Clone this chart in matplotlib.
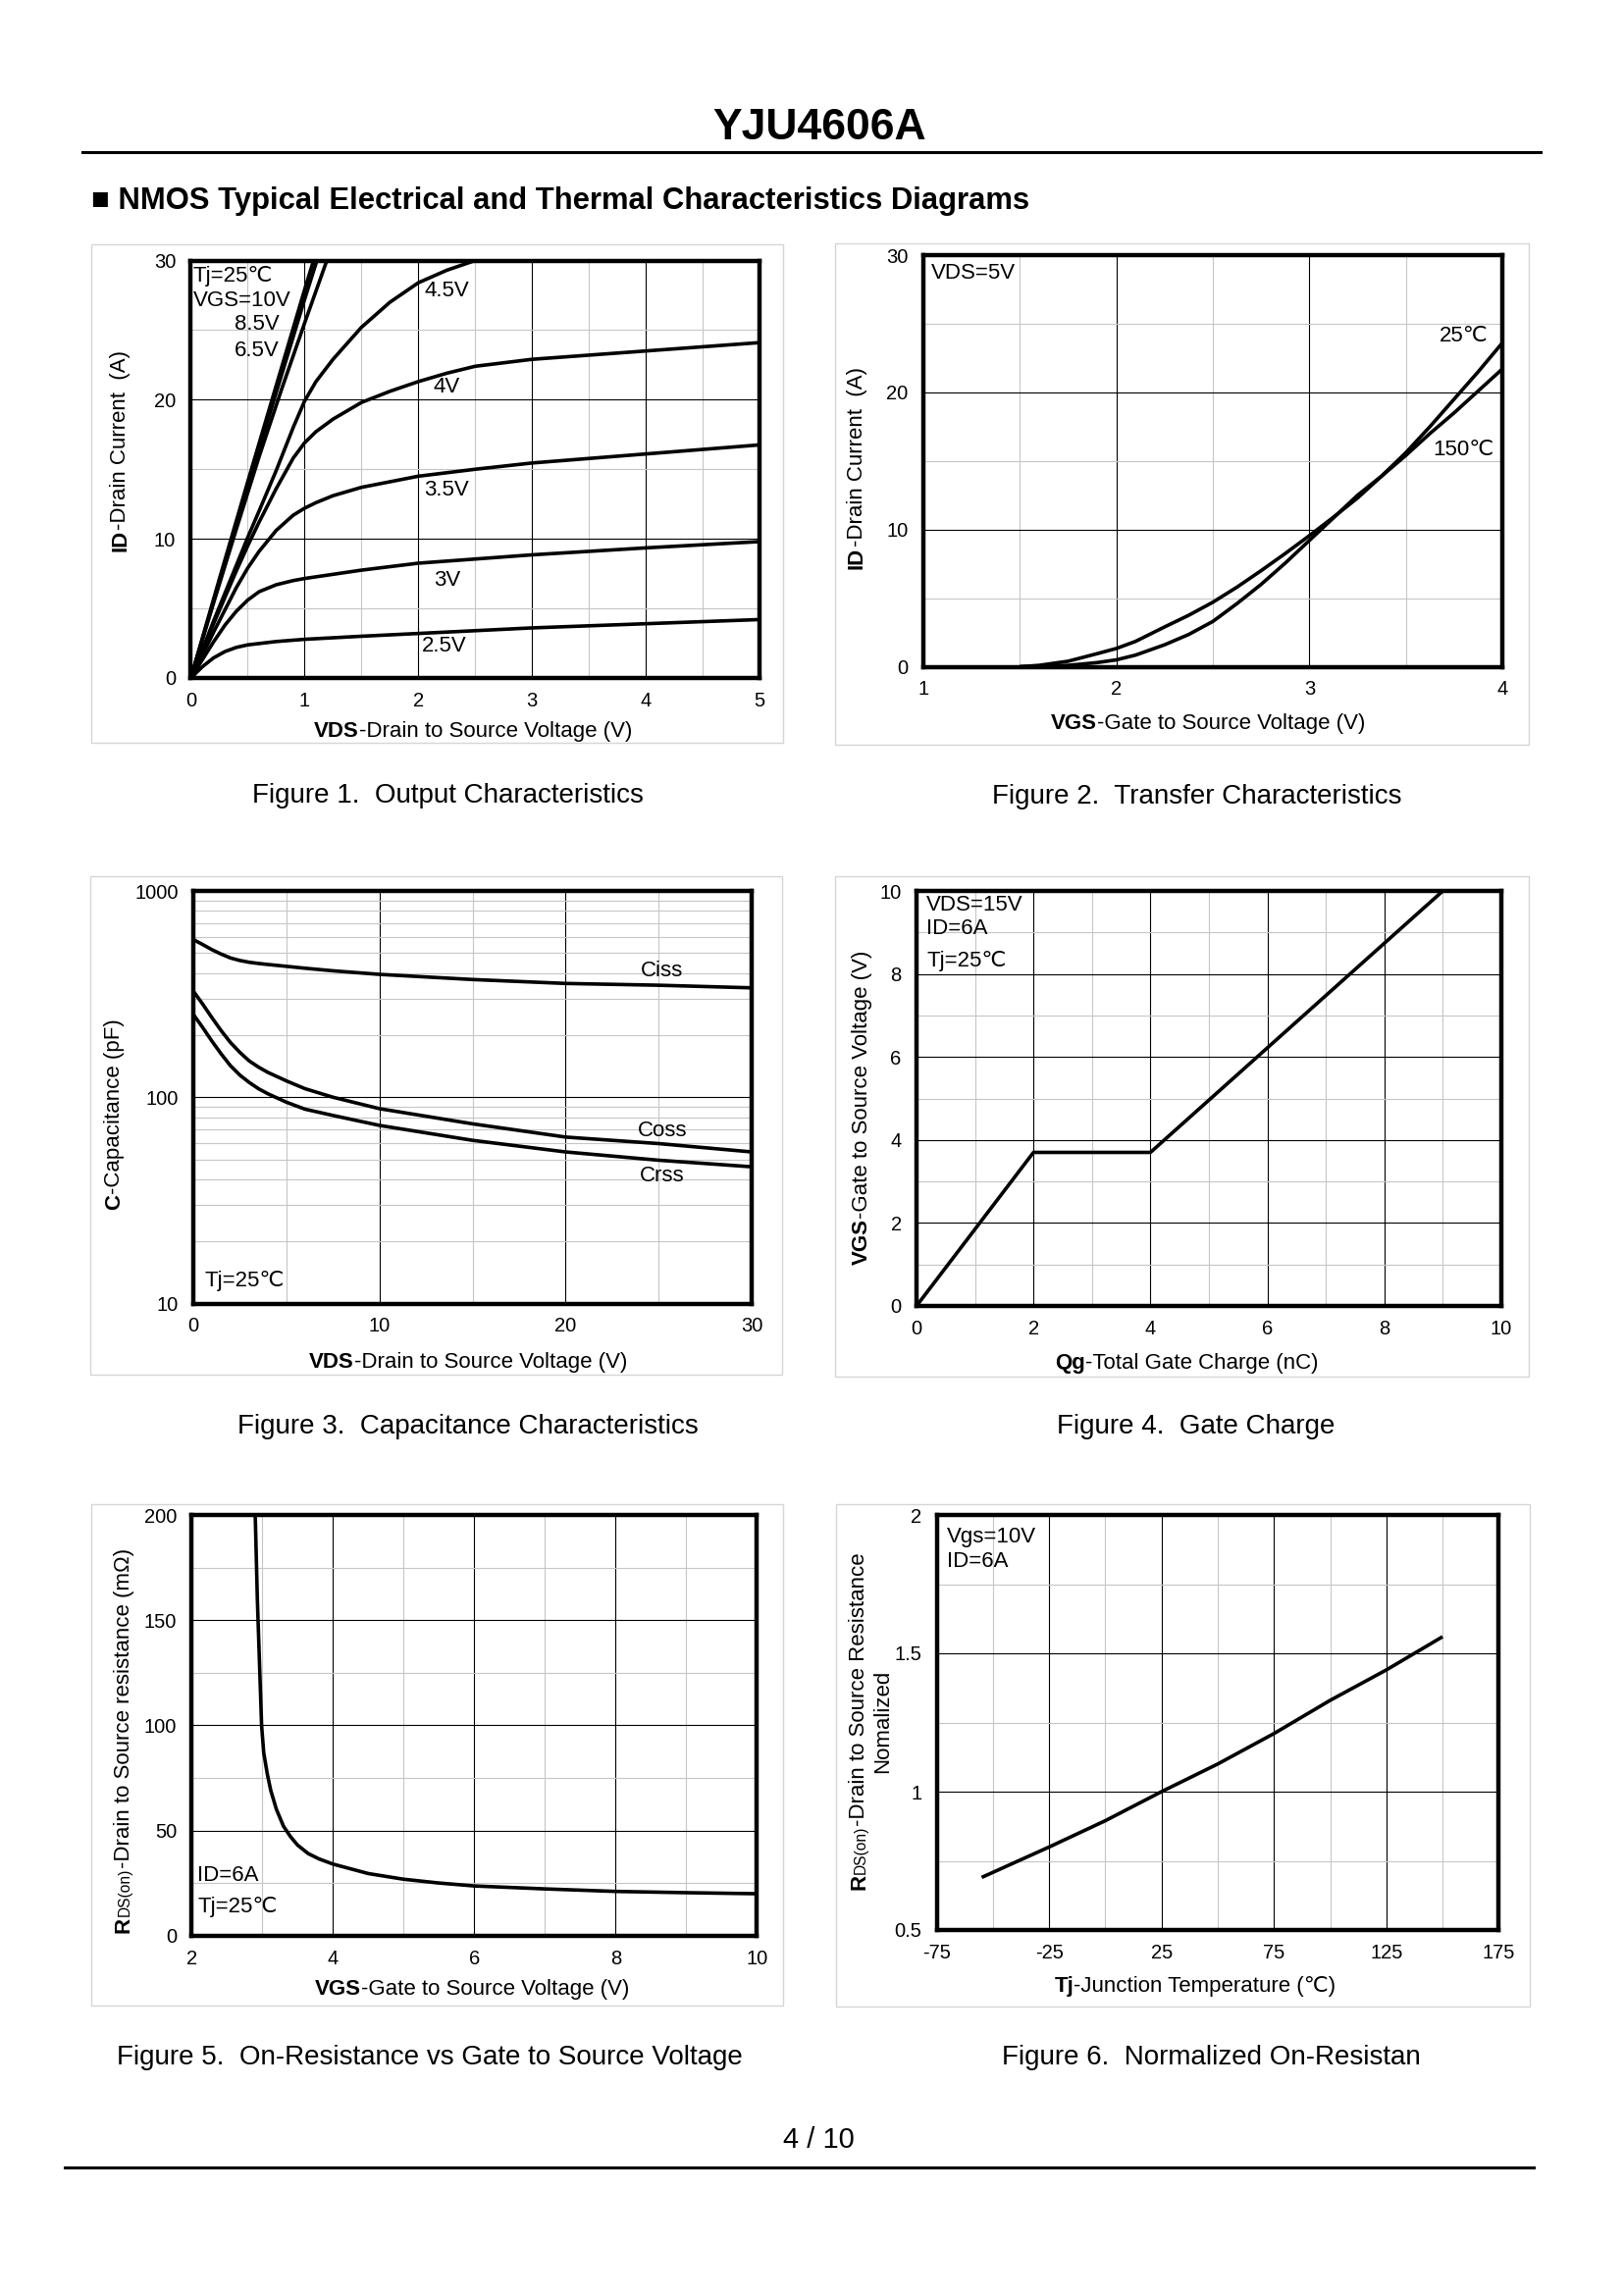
import matplotlib
matplotlib.use('Agg')
import matplotlib.pyplot as plt
from matplotlib.patches import Rectangle
from matplotlib.lines import Line2D
from matplotlib.ticker import NullFormatter, FixedLocator, FixedFormatter

plt.rcParams['font.family'] = ['Liberation Sans', 'DejaVu Sans']

W, H, DPI = 1656, 2339, 100

# ---------------- data ----------------
# Figure 1: output characteristics (VDS in V, ID in A)
f1_vds_25 = [0, 0.1, 0.2, 0.3, 0.4, 0.5, 0.75, 1, 1.5, 2, 3, 4, 5]
f1_id_25 = [0, 0.8, 1.45, 1.9, 2.2, 2.38, 2.62, 2.78, 3.0, 3.2, 3.6, 3.9, 4.2]
f1_vds_30 = [0, 0.1, 0.2, 0.3, 0.4, 0.5, 0.6, 0.75, 0.9, 1, 1.25, 1.5, 2, 2.5, 3, 4, 5]
f1_id_30 = [0, 1.3, 2.6, 3.8, 4.8, 5.6, 6.2, 6.7, 7.0, 7.15, 7.45, 7.75, 8.25, 8.55, 8.85, 9.35, 9.8]
f1_vds_35 = [0, 0.1, 0.2, 0.3, 0.4, 0.5, 0.6, 0.75, 0.9, 1, 1.1, 1.25, 1.5, 1.75, 2, 2.5, 3, 4, 5]
f1_id_35 = [0, 1.6, 3.3, 4.9, 6.5, 7.9, 9.1, 10.6, 11.7, 12.2, 12.6, 13.1, 13.7, 14.1, 14.5, 15.0, 15.45, 16.1, 16.75]
f1_vds_40 = [0, 0.1, 0.2, 0.3, 0.4, 0.5, 0.6, 0.75, 0.9, 1, 1.1, 1.25, 1.5, 1.75, 2, 2.25, 2.5, 3, 4, 5]
f1_id_40 = [0, 1.9, 3.9, 5.8, 7.7, 9.5, 11.2, 13.6, 15.8, 16.9, 17.7, 18.6, 19.8, 20.6, 21.3, 21.9, 22.4, 22.9, 23.5, 24.1]
f1_vds_45 = [0, 0.1, 0.2, 0.3, 0.4, 0.5, 0.6, 0.75, 0.9, 1, 1.1, 1.25, 1.5, 1.75, 2, 2.25, 2.5]
f1_id_45 = [0, 2.0, 4.1, 6.1, 8.1, 10.1, 12.0, 14.9, 18.0, 19.9, 21.3, 22.9, 25.2, 27.0, 28.4, 29.3, 30.0]
f1_vds_65 = [0, 0.2, 0.4, 0.6, 0.8, 1.0, 1.2]
f1_id_65 = [0, 5.4, 10.7, 15.9, 20.8, 25.5, 30.1]
f1_vds_85 = [0, 0.25, 0.5, 0.75, 1.0, 1.12]
f1_id_85 = [0, 6.9, 13.7, 20.5, 27.2, 30.3]
f1_vds_10 = [0, 0.25, 0.5, 0.75, 1.0, 1.09]
f1_id_10 = [0, 7.1, 14.1, 21.0, 27.9, 30.3]

# Figure 2: transfer characteristics (VGS in V, ID in A)
f2_vgs = [1.5, 1.6, 1.75, 1.9, 2.0, 2.1, 2.25, 2.375, 2.5, 2.625, 2.75, 2.875,
          3.0, 3.125, 3.25, 3.375, 3.5, 3.625, 3.75, 3.875, 4.0]
f2_id_25c = [0, 0.1, 0.4, 0.95, 1.33, 1.85, 2.9, 3.75, 4.7, 5.8, 7.0, 8.25,
             9.55, 10.9, 12.3, 13.9, 15.6, 17.5, 19.5, 21.5, 23.6]
f2_id_150c = [0, 0.02, 0.1, 0.3, 0.5, 0.85, 1.6, 2.35, 3.3, 4.6, 6.0, 7.55,
              9.2, 10.85, 12.5, 13.9, 15.4, 17.0, 18.5, 20.1, 21.7]

# Figure 3: capacitance (VDS in V, C in pF)
f3_vds = [0, 0.5, 1, 1.5, 2, 2.5, 3, 3.5, 4, 5, 6, 7.5, 10, 15, 20, 25, 30]
f3_ciss = [581, 550, 519, 494, 473, 460, 451, 445, 440, 431, 422, 410, 394, 372, 356, 349, 339]
f3_coss = [327, 283, 243, 210, 184, 165, 150, 140, 132, 120, 110, 100, 88, 74.3, 64.1, 59.6, 54.3]
f3_crss = [252, 218, 187, 162, 142, 128, 118, 110, 104, 94.6, 87.5, 81.6, 73, 61.8, 54.3, 49.5, 46]

# Figure 4: gate charge (Qg in nC, VGS in V)
f4_qg = [0, 2, 4, 9]
f4_vgs = [0, 3.7, 3.7, 10]

# Figure 5: RDS(on) vs VGS (V, mOhm)
f5_vgs = [2.9, 2.93, 2.96, 2.99, 3.02, 3.07, 3.12, 3.2, 3.3, 3.4, 3.5, 3.65, 3.8,
          4.0, 4.5, 5.0, 5.5, 6, 7, 8, 9, 10]
f5_rds = [200, 160, 130, 100, 87, 77, 69, 60, 52, 47, 43, 39, 36.5,
          34, 29.5, 26.8, 25, 23.6, 22.2, 21, 20.4, 19.9]

# Figure 6: normalized RDS(on) vs Tj
f6_tj = [-55, -25, 0, 25, 50, 75, 100, 125, 150]
f6_rn = [0.69, 0.80, 0.895, 1.0, 1.10, 1.21, 1.33, 1.44, 1.56]

# ---------------- helpers ----------------
fig = plt.figure(figsize=(W / DPI, H / DPI), dpi=DPI)
fig.patch.set_facecolor('white')
renderer = fig.canvas.get_renderer()

TICK = 14.5
ANN = 16
LAB = 16
CAP = 20
LW = 2.6


def add_axes_px(l, t, r, b):
    return fig.add_axes([l / W, 1 - b / H, (r - l) / W, (b - t) / H])


def box_px(l, t, r, b):
    fig.add_artist(Rectangle((l / W, 1 - b / H), (r - l) / W, (b - t) / H,
                             transform=fig.transFigure, fill=False,
                             ec='#d6d6d6', lw=1.0))


def hline_px(y, x0, x1, lw):
    fig.add_artist(Line2D([x0 / W, x1 / W], [1 - y / H, 1 - y / H],
                          transform=fig.transFigure, color='black', lw=lw))


def rich(pieces, x, y, size, rotation=0):
    """pieces: (text, weight, scale). Horizontal: x = centre, y = baseline.
    Rotated 90: x = baseline, y = centre (pixel coords from top-left)."""
    ts, lens = [], []
    for s, wt, sc in pieces:
        t = fig.text(0, 0, s, fontsize=size * sc, fontweight=wt,
                     rotation=rotation, rotation_mode='anchor',
                     ha='left', va='baseline', color='black')
        bb = t.get_window_extent(renderer=renderer)
        lens.append(bb.width if rotation == 0 else bb.height)
        ts.append(t)
    total = sum(lens)
    pos = -total / 2
    for t, L in zip(ts, lens):
        if rotation == 0:
            t.set_position(((x + pos) / W, 1 - y / H))
        else:
            t.set_position((x / W, 1 - (y - pos) / H))
        pos += L


def style_axes(ax, xlim, ylim, xmaj, xmin, ymaj, ymin, xlab, ylab, log=False):
    if log:
        ax.set_yscale('log')
    ax.set_xlim(*xlim)
    ax.set_ylim(*ylim)
    ax.xaxis.set_major_locator(FixedLocator(xmaj))
    ax.xaxis.set_major_formatter(FixedFormatter(xlab))
    ax.xaxis.set_minor_locator(FixedLocator(xmin))
    ax.xaxis.set_minor_formatter(NullFormatter())
    ax.yaxis.set_major_locator(FixedLocator(ymaj))
    ax.yaxis.set_major_formatter(FixedFormatter(ylab))
    ax.yaxis.set_minor_locator(FixedLocator(ymin))
    ax.yaxis.set_minor_formatter(NullFormatter())
    ax.grid(which='major', color='black', lw=0.8)
    ax.grid(which='minor', color='#c6c6c6', lw=0.8)
    ax.set_axisbelow(True)
    ax.tick_params(which='both', length=0, labelsize=TICK, colors='black')
    ax.tick_params(axis='x', pad=10)
    ax.tick_params(axis='y', pad=11)
    for s in ax.spines.values():
        s.set_linewidth(3.2)
        s.set_color('black')


def curve(ax, x, y):
    ax.plot(x, y, color='black', lw=LW, solid_joinstyle='round',
            solid_capstyle='butt', zorder=2)


# ---------------- page decorations ----------------
fig.text(835 / W, 1 - 142 / H, 'YJU4606A', fontsize=32, fontweight='bold',
         ha='center', va='baseline')
hline_px(155, 84.5, 1570, 2.2)
fig.text(93 / W, 1 - 213 / H,
         '■ NMOS Typical Electrical and Thermal Characteristics Diagrams',
         fontsize=22.3, fontweight='bold', ha='left', va='baseline')
fig.text(834 / W, 1 - 2189 / H, '4 / 10', fontsize=21, ha='center', va='baseline')
hline_px(2209, 65.5, 1563, 2.2)

# outer frames
box_px(92.6, 249, 798, 757)
box_px(851, 248, 1558, 759)
box_px(92, 893, 797, 1401)
box_px(851, 893, 1558, 1402.5)
box_px(92.6, 1533, 798, 2044)
box_px(852.5, 1533, 1559, 2045)

# ---------------- Figure 1 ----------------
ax1 = add_axes_px(194.5, 265.5, 774, 691)
style_axes(ax1, (0, 5), (0, 30), [0, 1, 2, 3, 4, 5], [0.5, 1.5, 2.5, 3.5, 4.5],
           [0, 10, 20, 30], [5, 15, 25], ['0', '1', '2', '3', '4', '5'],
           ['0', '10', '20', '30'])
for xs, ys in [(f1_vds_25, f1_id_25), (f1_vds_30, f1_id_30), (f1_vds_35, f1_id_35),
               (f1_vds_40, f1_id_40), (f1_vds_45, f1_id_45), (f1_vds_65, f1_id_65),
               (f1_vds_85, f1_id_85), (f1_vds_10, f1_id_10)]:
    curve(ax1, xs, ys)
ax1.text(0.02, 28.9, 'Tj=25℃', fontsize=ANN, ha='left', va='center')
ax1.text(0.02, 27.1, 'VGS=10V', fontsize=ANN, ha='left', va='center')
ax1.text(0.78, 25.4, '8.5V', fontsize=ANN, ha='right', va='center')
ax1.text(0.78, 23.5, '6.5V', fontsize=ANN, ha='right', va='center')
ax1.text(2.25, 27.8, '4.5V', fontsize=ANN, ha='center', va='center')
ax1.text(2.25, 20.9, '4V', fontsize=ANN, ha='center', va='center')
ax1.text(2.25, 13.5, '3.5V', fontsize=ANN, ha='center', va='center')
ax1.text(2.25, 7.0, '3V', fontsize=ANN, ha='center', va='center')
ax1.text(2.23, 2.3, '2.5V', fontsize=ANN, ha='center', va='center')
rich([('VDS', 'bold', 1), ('-Drain to Source Voltage (V)', 'normal', 1)], 482, 750.6, LAB)
rich([('ID', 'bold', 1), ('-Drain Current  (A)', 'normal', 1)], 128.4, 459.7, LAB, 90)
fig.text(456 / W, 1 - 818 / H, 'Figure 1.  Output Characteristics', fontsize=CAP,
         ha='center', va='baseline')

# ---------------- Figure 2 ----------------
ax2 = add_axes_px(941, 260, 1531, 679.5)
style_axes(ax2, (1, 4), (0, 30), [1, 2, 3, 4], [1.5, 2.5, 3.5],
           [0, 10, 20, 30], [5, 15, 25], ['1', '2', '3', '4'],
           ['0', '10', '20', '30'])
curve(ax2, f2_vgs, f2_id_25c)
curve(ax2, f2_vgs, f2_id_150c)
ax2.text(1.04, 28.7, 'VDS=5V', fontsize=ANN, ha='left', va='center')
ax2.text(3.8, 24.1, '25℃', fontsize=ANN, ha='center', va='center')
ax2.text(3.8, 15.8, '150℃', fontsize=ANN, ha='center', va='center')
rich([('VGS', 'bold', 1), ('-Gate to Source Voltage (V)', 'normal', 1)], 1231, 743.4, LAB)
rich([('ID', 'bold', 1), ('-Drain Current  (A)', 'normal', 1)], 878.7, 477, LAB, 90)
fig.text(1220 / W, 1 - 819 / H, 'Figure 2.  Transfer Characteristics', fontsize=CAP,
         ha='center', va='baseline')

# ---------------- Figure 3 ----------------
ax3 = add_axes_px(197, 908, 766, 1328.5)
style_axes(ax3, (0, 30), (10, 1000), [0, 10, 20, 30], [5, 15, 25],
           [10, 100, 1000],
           [20, 30, 40, 50, 60, 70, 80, 90, 200, 300, 400, 500, 600, 700, 800, 900],
           ['0', '10', '20', '30'], ['10', '100', '1000'], log=True)
curve(ax3, f3_vds, f3_ciss)
curve(ax3, f3_vds, f3_coss)
curve(ax3, f3_vds, f3_crss)
ax3.text(25.2, 411, 'Ciss', fontsize=ANN, ha='center', va='center')
ax3.text(25.2, 68.5, 'Coss', fontsize=ANN, ha='center', va='center')
ax3.text(25.2, 41.6, 'Crss', fontsize=ANN, ha='center', va='center')
ax3.text(0.6, 12.8, 'Tj=25℃', fontsize=ANN, ha='left', va='center')
rich([('VDS', 'bold', 1), ('-Drain to Source Voltage (V)', 'normal', 1)], 477, 1393.6, LAB)
rich([('C', 'bold', 1), ('-Capacitance (pF)', 'normal', 1)], 121.7, 1136, LAB, 90)
fig.text(477 / W, 1 - 1461 / H, 'Figure 3.  Capacitance Characteristics', fontsize=CAP,
         ha='center', va='baseline')

# ---------------- Figure 4 ----------------
ax4 = add_axes_px(934, 908, 1530, 1331)
style_axes(ax4, (0, 10), (0, 10), [0, 2, 4, 6, 8, 10], [1, 3, 5, 7, 9],
           [0, 2, 4, 6, 8, 10], [1, 3, 5, 7, 9],
           ['0', '2', '4', '6', '8', '10'], ['0', '2', '4', '6', '8', '10'])
curve(ax4, f4_qg, f4_vgs)
ax4.text(0.17, 9.65, 'VDS=15V', fontsize=ANN, ha='left', va='center')
ax4.text(0.17, 9.1, 'ID=6A', fontsize=ANN, ha='left', va='center')
ax4.text(0.17, 8.3, 'Tj=25℃', fontsize=ANN, ha='left', va='center')
rich([('Qg', 'bold', 1), ('-Total Gate Charge (nC)', 'normal', 1)], 1209, 1394.6, LAB)
rich([('VGS', 'bold', 1), ('-Gate to Source Voltage (V)', 'normal', 1)], 883.7, 1128.6, LAB, 90)
fig.text(1219 / W, 1 - 1460.7 / H, 'Figure 4.  Gate Charge', fontsize=CAP,
         ha='center', va='baseline')

# ---------------- Figure 5 ----------------
ax5 = add_axes_px(195.3, 1544, 771.3, 1972.7)
style_axes(ax5, (2, 10), (0, 200), [2, 4, 6, 8, 10], [3, 5, 7, 9],
           [0, 50, 100, 150, 200], [25, 75, 125, 175],
           ['2', '4', '6', '8', '10'], ['0', '50', '100', '150', '200'])
curve(ax5, f5_vgs, f5_rds)
ax5.text(2.08, 28.6, 'ID=6A', fontsize=ANN, ha='left', va='center')
ax5.text(2.08, 13.8, 'Tj=25℃', fontsize=ANN, ha='left', va='center')
rich([('VGS', 'bold', 1), ('-Gate to Source Voltage (V)', 'normal', 1)], 481, 2033, LAB)
rich([('R', 'bold', 1), ('DS(on)', 'normal', 0.7),
      ('-Drain to Source resistance (mΩ)', 'normal', 1)], 131.7, 1773.7, LAB, 90)
fig.text(437.5 / W, 1 - 2103.5 / H,
         'Figure 5.  On-Resistance vs Gate to Source Voltage', fontsize=CAP,
         ha='center', va='baseline')

# ---------------- Figure 6 ----------------
ax6 = add_axes_px(954.6, 1544, 1527.4, 1967)
style_axes(ax6, (-75, 175), (0.5, 2), [-75, -25, 25, 75, 125, 175],
           [-50, 0, 50, 100, 150], [0.5, 1, 1.5, 2], [0.75, 1.25, 1.75],
           ['-75', '-25', '25', '75', '125', '175'], ['0.5', '1', '1.5', '2'])
curve(ax6, f6_tj, f6_rn)
ax6.text(-70.6, 1.92, 'Vgs=10V', fontsize=ANN, ha='left', va='center')
ax6.text(-70.6, 1.83, 'ID=6A', fontsize=ANN, ha='left', va='center')
rich([('Tj', 'bold', 1), ('-Junction Temperature (℃)', 'normal', 1)], 1218, 2030.4, LAB)
rich([('R', 'bold', 1), ('DS(on)', 'normal', 0.7),
      ('-Drain to Source Resistance', 'normal', 1)], 881.3, 1754, LAB, 90)
rich([('Nomalized', 'normal', 1)], 905.2, 1754, LAB, 90)
fig.text(1234 / W, 1 - 2103.5 / H, 'Figure 6.  Normalized On-Resistan', fontsize=CAP,
         ha='center', va='baseline')

fig.savefig('out.png', dpi=DPI, facecolor='white')
